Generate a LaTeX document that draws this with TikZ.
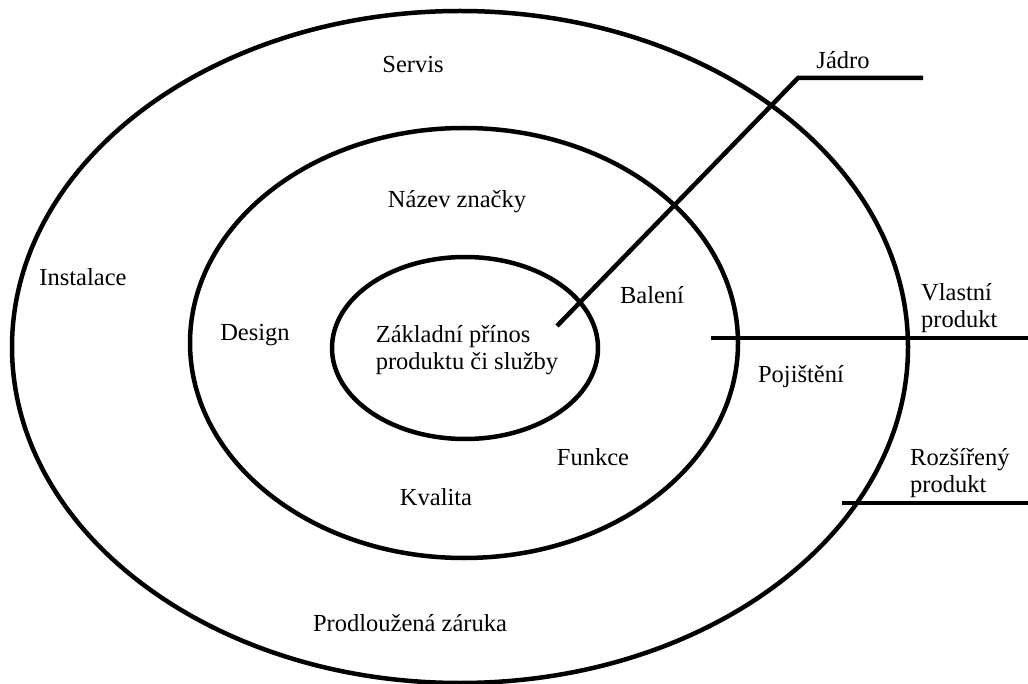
\documentclass[tikz,border=0pt]{standalone}
\usepackage{fontspec}
\setmainfont{Liberation Serif}
\begin{document}
\begin{tikzpicture}[x=1pt,y=-1pt,
  ring/.style={line width=4.5pt},
  leader/.style={line width=4.5pt},
  lbl/.style={inner sep=0pt,font=\fontsize{24.5}{27}\selectfont},
  lbl2/.style={lbl,align=left}]
  \useasboundingbox[fill=white] (0,0) rectangle (1028,684);

  % concentric product levels
  \draw[ring] (460,347) ellipse [x radius=448pt, y radius=336pt];
  \draw[ring] (464,343) ellipse [x radius=274pt, y radius=215pt];
  \draw[ring] (465,348) ellipse [x radius=133pt, y radius=91pt];

  % leader lines
  \coordinate (j1) at (557,326);
  \coordinate (j2) at (798,78);
  \coordinate (j3) at (923,78);
  \draw[leader] (j1) -- (j2) -- (j3);
  \coordinate (v1) at (711,338);
  \coordinate (v2) at (1030,338);
  \draw[leader] (v1) -- (v2);
  \coordinate (r1) at (842,503);
  \coordinate (r2) at (1030,503);
  \draw[leader] (r1) -- (r2);

  % labels
  \node[lbl] (servis) at (413,65) {Servis};
  \node[lbl] (nazev) at (457,202) {Název značky};
  \node[lbl] (instalace) at (83,277) {Instalace};
  \node[lbl] (design) at (255,335) {Design};
  \node[lbl2] (zaklad) at (467,350) {Základní přínos\\produktu či služby};
  \node[lbl] (baleni) at (652,295) {Balení};
  \node[lbl] (pojisteni) at (801,377) {Pojištění};
  \node[lbl] (funkce) at (593,457) {Funkce};
  \node[lbl] (kvalita) at (436,497) {Kvalita};
  \node[lbl] (zaruka) at (410,623) {Prodloužená záruka};
  \node[lbl] (jadro) at (843,60) {Jádro};
  \node[lbl2,anchor=west] (vlastni) at (921,308) {Vlastní\\produkt};
  \node[lbl2,anchor=west] (rozsireny) at (910,473) {Rozšířený\\produkt};
\end{tikzpicture}
\end{document}
